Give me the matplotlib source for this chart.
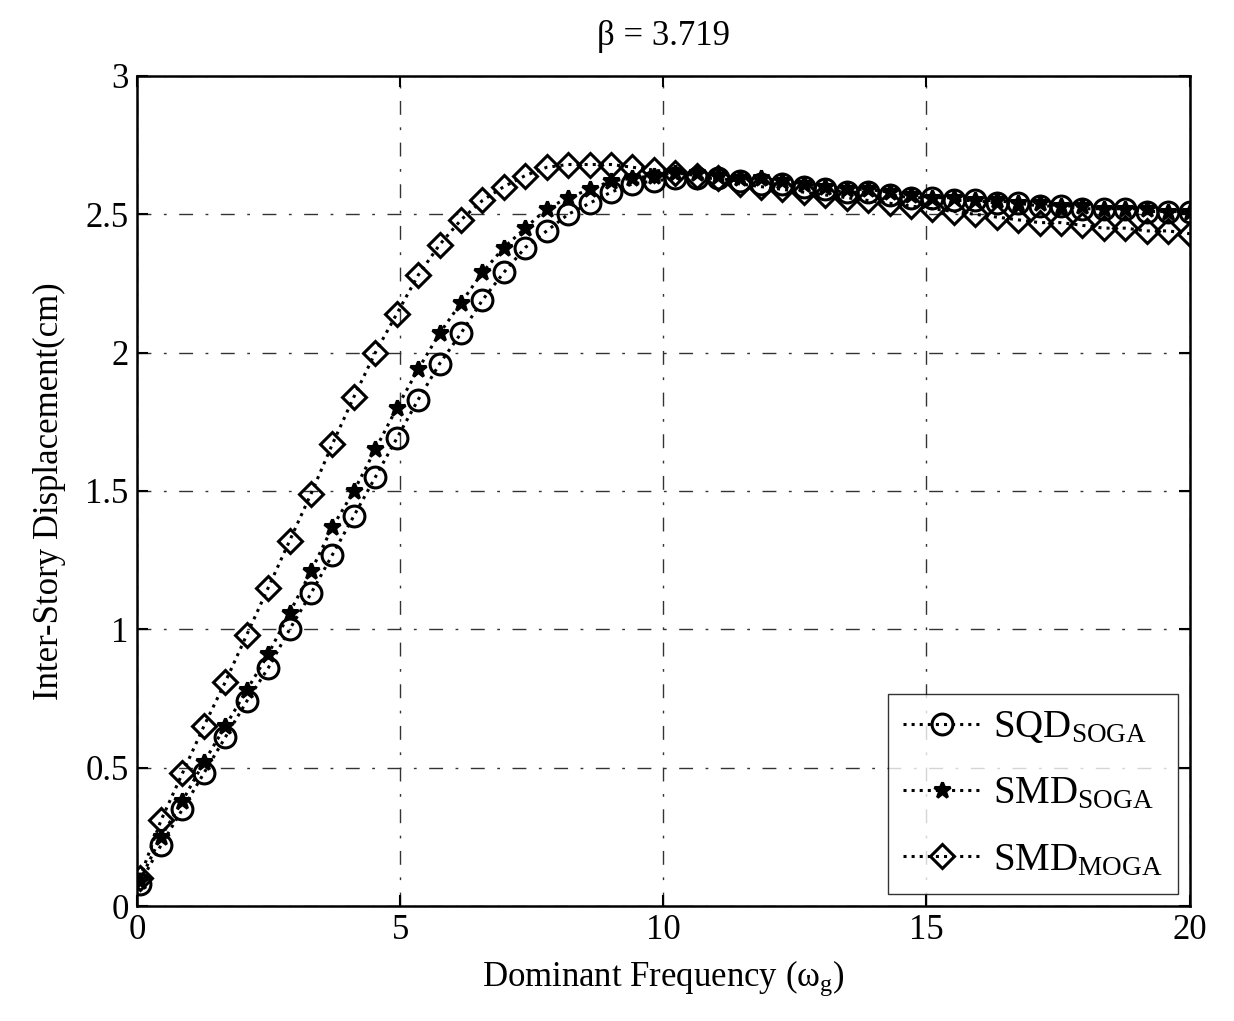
import numpy as np
import matplotlib
matplotlib.use("Agg")
import matplotlib.pyplot as plt

plt.rcParams["font.family"] = ["Liberation Serif", "DejaVu Serif"]
plt.rcParams["mathtext.fontset"] = "custom"
plt.rcParams["mathtext.rm"] = "Liberation Serif"
plt.rcParams["mathtext.it"] = "Liberation Serif:italic"

# ============================================================
# DATA
# ============================================================

freq = np.linspace(0.05, 20, 50)

sqd_soga = [0.08, 0.22, 0.35, 0.48, 0.61, 0.74, 0.86, 1.00, 1.13, 1.27,
            1.41, 1.55, 1.69, 1.83, 1.96, 2.07, 2.19, 2.29, 2.38, 2.44,
            2.50, 2.54, 2.58, 2.61, 2.62, 2.63, 2.63, 2.63, 2.62, 2.61,
            2.61, 2.60, 2.59, 2.58, 2.58, 2.57, 2.56, 2.56, 2.55, 2.55,
            2.54, 2.54, 2.53, 2.53, 2.52, 2.52, 2.52, 2.51, 2.51, 2.51]

smd_soga = [0.09, 0.25, 0.38, 0.52, 0.65, 0.78, 0.91, 1.06, 1.21, 1.37,
            1.50, 1.65, 1.80, 1.94, 2.07, 2.18, 2.29, 2.38, 2.45, 2.52,
            2.56, 2.59, 2.62, 2.63, 2.64, 2.65, 2.65, 2.64, 2.63, 2.63,
            2.62, 2.61, 2.60, 2.59, 2.59, 2.58, 2.57, 2.56, 2.56, 2.55,
            2.55, 2.54, 2.54, 2.53, 2.53, 2.52, 2.52, 2.52, 2.51, 2.51]

smd_moga = [0.10, 0.31, 0.48, 0.65, 0.81, 0.98, 1.15, 1.32, 1.49, 1.67,
            1.84, 2.00, 2.14, 2.28, 2.39, 2.48, 2.55, 2.60, 2.64, 2.67,
            2.68, 2.68, 2.68, 2.67, 2.66, 2.65, 2.64, 2.63, 2.61, 2.60,
            2.59, 2.58, 2.57, 2.56, 2.55, 2.54, 2.53, 2.52, 2.51, 2.50,
            2.49, 2.48, 2.47, 2.47, 2.46, 2.45, 2.45, 2.44, 2.44, 2.43]

x_ticks = [0, 5, 10, 15, 20]
y_ticks = [0, 0.5, 1, 1.5, 2, 2.5, 3]
y_tick_labels = ["0", "0.5", "1", "1.5", "2", "2.5", "3"]

# ============================================================
# PLOT
# ============================================================

fig = plt.figure(figsize=(12.34, 10.21), dpi=100)
ax = fig.add_axes([0.111, 0.1126, 0.853, 0.813])

line_kw = dict(color="black", linestyle=":", linewidth=2.2,
               markerfacecolor="none", markeredgewidth=2.2)

ax.plot(freq, sqd_soga, marker="o", markersize=15,
        label=r"SQD$_{\mathrm{SOGA}}$", **line_kw)
ax.plot(freq, smd_soga, marker="*", markersize=12,
        label=r"SMD$_{\mathrm{SOGA}}$", **{**line_kw, "markerfacecolor": "black"})
ax.plot(freq, smd_moga, marker="D", markersize=12,
        label=r"SMD$_{\mathrm{MOGA}}$", **line_kw)

ax.set_xlim(0, 20)
ax.set_ylim(0, 3)
ax.set_xticks(x_ticks)
ax.set_yticks(y_ticks)
ax.set_yticklabels(y_tick_labels)

ax.grid(True, color="#333333", linewidth=1.0, linestyle=(0, (10, 9, 2, 9)))
ax.tick_params(direction="in", length=8, width=1.5, top=True, right=True,
               labelsize=25, pad=6)
for sp in ax.spines.values():
    sp.set_linewidth(1.8)

ax.set_xlabel(r"Dominant Frequency (ω$_{\mathrm{g}}$)", fontsize=25, labelpad=8)
ax.set_ylabel("Inter-Story Displacement(cm)", fontsize=25, labelpad=14)
ax.set_title("β = 3.719", fontsize=25, pad=22)

leg = ax.legend(loc="lower right", fontsize=28, frameon=True, fancybox=False,
                edgecolor="black", handlelength=2.0, handletextpad=0.3,
                borderaxespad=0.3, labelspacing=0.75, borderpad=0.4)
leg.get_frame().set_linewidth(1.0)

fig.savefig("out.png", dpi=100)
